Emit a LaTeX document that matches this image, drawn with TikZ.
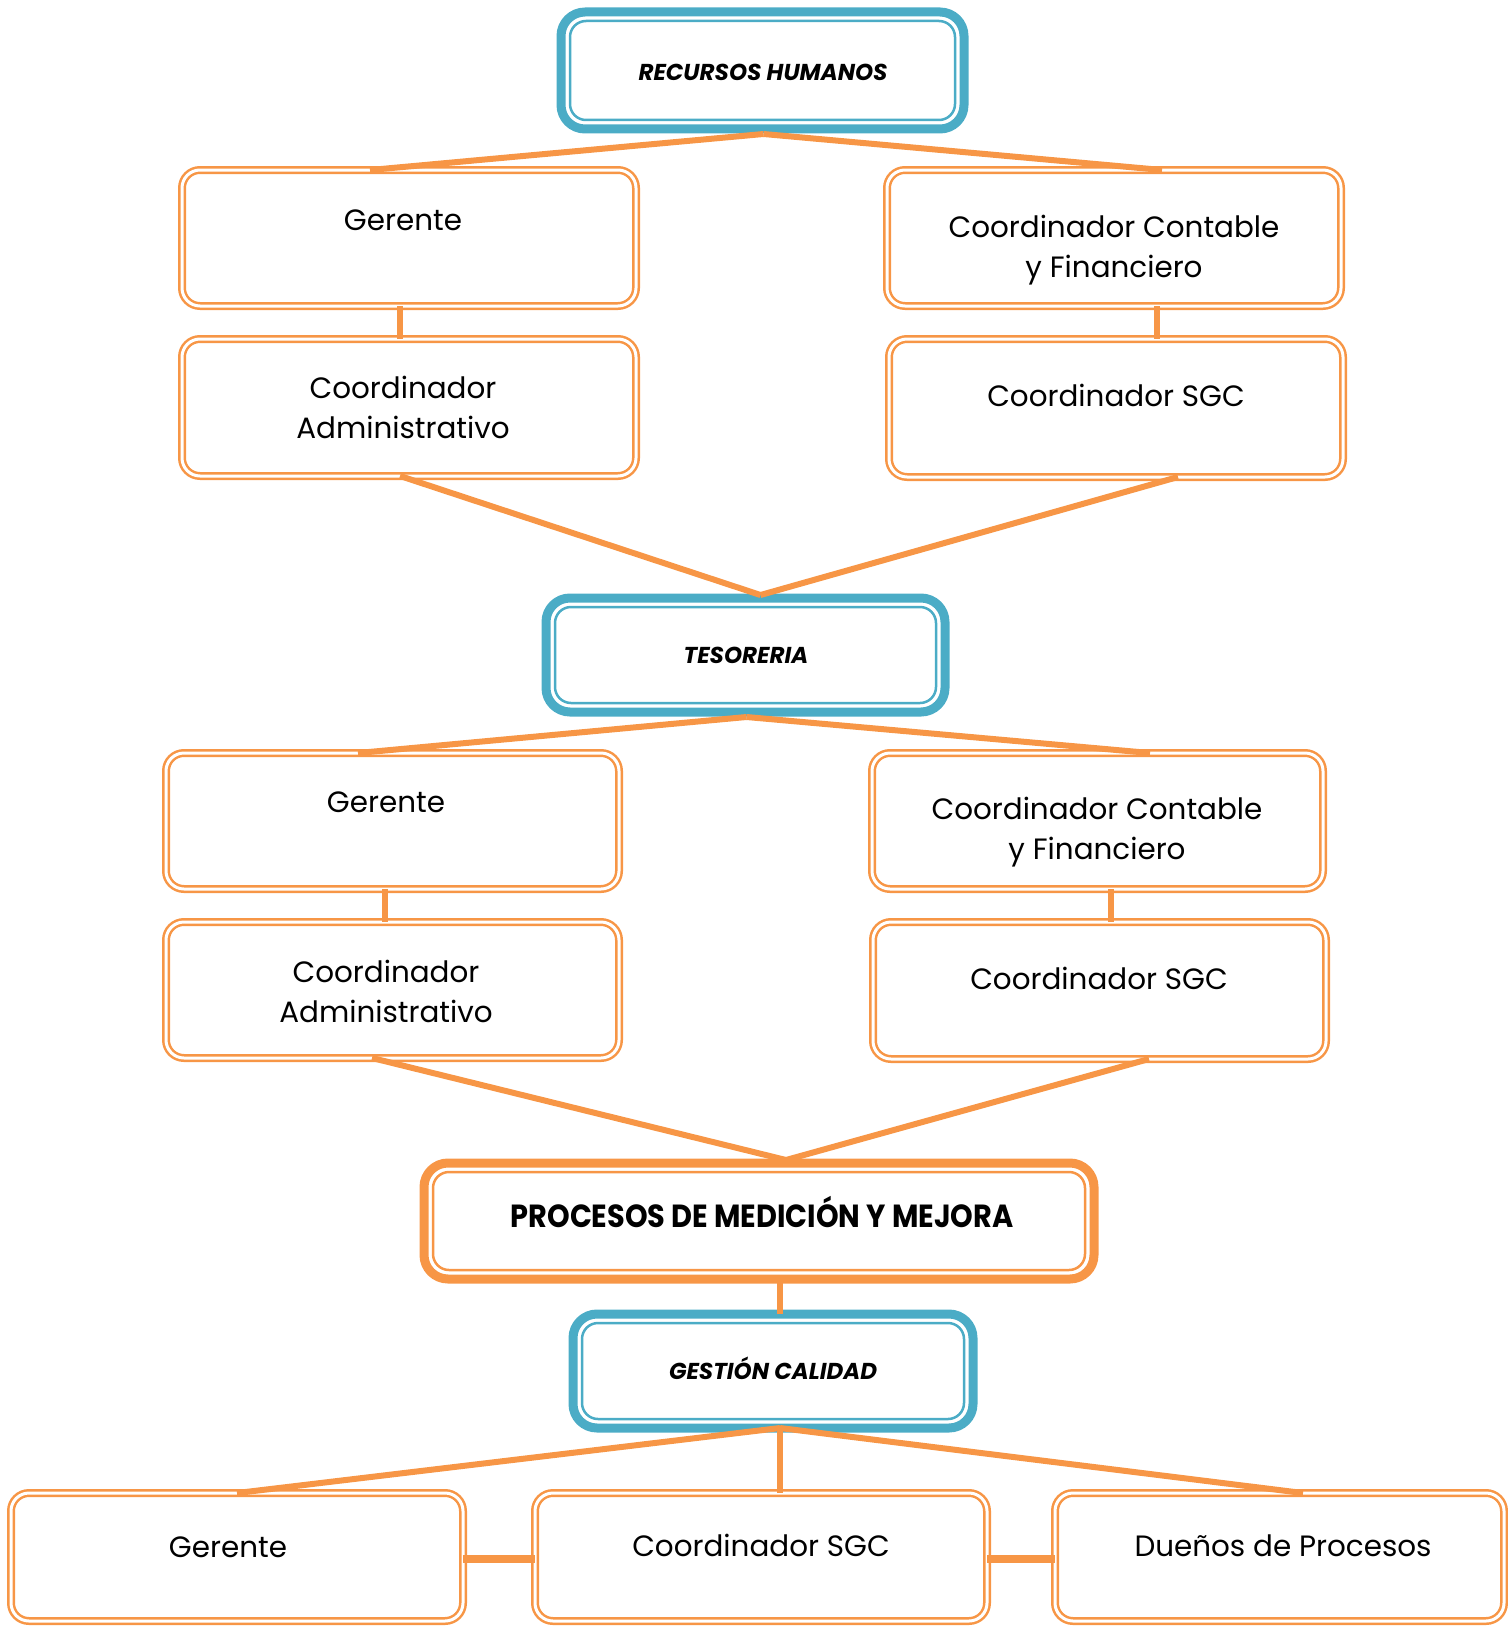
\documentclass[tikz,border=0pt]{standalone}
\usepackage{fontspec}
\setmainfont{Poppins}
\newfontfamily\condbold[FakeStretch=0.9]{Poppins}
\definecolor{org}{HTML}{F79646}
\definecolor{blu}{HTML}{4BACC6}
\newcommand\obx[5]{\node[obox,minimum width={(#3-#2)*0.5pt},minimum height={(#5-#4)*0.5pt}] (#1) at ({(#2+#3)/2},{(#4+#5)/2}) {};}
\newcommand\bbx[6]{\node[tbox,draw=#6,minimum width={(#3-#2)*0.5pt},minimum height={(#5-#4)*0.5pt}] (#1) at ({(#2+#3)/2},{(#4+#5)/2}) {};
 \draw[#6,line width=1.25pt,rounded corners=8pt] ([shift={(9,9)}]#1.north west) rectangle ([shift={(-9,-9)}]#1.south east);}
\begin{document}
\begin{tikzpicture}[x=0.5pt,y=-0.5pt,
 obox/.style={draw=org,double=white,double distance=1.5pt,line width=1.25pt,rounded corners=9pt,inner sep=0pt,outer sep=0pt},
 tbox/.style={line width=4.5pt,rounded corners=12pt,inner sep=0pt,outer sep=0pt},
 conn/.style={draw=org,line width=3pt},
 hconn/.style={draw=org,line width=3.8pt},
 txt/.style={anchor=base,align=center,font=\fontsize{14.7}{20}\selectfont,inner sep=0pt},
 ttl/.style={anchor=base,font=\bfseries\itshape\fontsize{11.5}{14}\selectfont,inner sep=0pt},
 ptl/.style={anchor=base,font=\condbold\bfseries\fontsize{16}{20}\selectfont,inner sep=0pt}]
\useasboundingbox (0,0) rectangle (1508,1627);
% boxes
\bbx{rh}{561}{964}{12}{129}{blu}
\obx{g1}{182}{636}{170}{306}
\obx{ca1}{182}{636}{339}{476}
\obx{ccf1}{887}{1341}{170}{306}
\obx{sgc1}{889}{1343}{339}{477}
\bbx{tes}{546}{945}{598}{712}{blu}
\obx{g2}{166}{619}{753}{889}
\obx{ca2}{166}{619}{922}{1058}
\obx{ccf2}{872}{1323}{753}{889}
\obx{sgc2}{873}{1326}{922}{1059}
\bbx{proc}{424}{1094}{1163}{1279}{org}
\bbx{gc}{573}{973}{1314}{1428}{blu}
\obx{g3}{11}{463}{1493}{1621}
\obx{sgc3}{535}{987}{1493}{1621}
\obx{due}{1055}{1504}{1493}{1621}
% texts
\node[ttl] (trh) at (763,81) {RECURSOS HUMANOS};
\node[txt] (tg1) at (403,230) {Gerente};
\node[txt] (tca1) at (403,438) {Coordinador\\Administrativo};
\node[txt] (tccf1) at (1114,277) {Coordinador Contable\\y Financiero};
\node[txt] (tsgc1) at (1116,406) {Coordinador SGC};
\node[ttl] (ttes) at (746,663) {TESORERIA};
\node[txt] (tg2) at (386,812) {Gerente};
\node[txt] (tca2) at (386,1022) {Coordinador\\Administrativo};
\node[txt] (tccf2) at (1097,859) {Coordinador Contable\\y Financiero};
\node[txt] (tsgc2) at (1099,989) {Coordinador SGC};
\node[ptl] (tproc) at (762,1227) {PROCESOS DE MEDICIÓN Y MEJORA};
\node[ttl] (tgc) at (773,1379) {GESTIÓN CALIDAD};
\node[txt] (tg3) at (228,1557) {Gerente};
\node[txt] (tsgc3) at (761,1556) {Coordinador SGC};
\node[txt] (tdue) at (1283,1556) {Dueños de Procesos};
% connectors
\draw[conn] ([shift={(1,5)}]rh.south) -- (g1.north -| 370,0);
\draw[conn] ([shift={(1,5)}]rh.south) -- (ccf1.north -| 1162,0);
\draw[conn] (g1.south -| 400,0) -- (ca1.north -| 400,0);
\draw[conn] (ccf1.south -| 1157,0) -- (sgc1.north -| 1157,0);
\draw[conn] (ca1.south -| 400,0) -- ([shift={(15,-3)}]tes.north);
\draw[conn] (sgc1.south -| 1178,0) -- ([shift={(15,-3)}]tes.north);
\draw[conn] ([shift={(1,5)}]tes.south) -- (g2.north -| 358,0);
\draw[conn] ([shift={(1,5)}]tes.south) -- (ccf2.north -| 1150,0);
\draw[conn] (g2.south -| 385,0) -- (ca2.north -| 385,0);
\draw[conn] (ccf2.south -| 1111,0) -- (sgc2.north -| 1111,0);
\draw[conn] (ca2.south -| 372,0) -- ([shift={(27,-3)}]proc.north);
\draw[conn] (sgc2.south -| 1149,0) -- ([shift={(27,-3)}]proc.north);
\draw[conn] (proc.south -| 780,0) -- (gc.north -| 780,0);
\draw[conn] (gc.south -| 780,0) -- (g3.north -| 237,0);
\draw[conn] (gc.south -| 780,0) -- (sgc3.north -| 780,0);
\draw[conn] (gc.south -| 780,0) -- (due.north -| 1303,0);
\draw[hconn] ([shift={(0,2)}]g3.east) -- ([shift={(0,2)}]sgc3.west);
\draw[hconn] ([shift={(0,2)}]sgc3.east) -- ([shift={(0,2)}]due.west);
\end{tikzpicture}
\end{document}
